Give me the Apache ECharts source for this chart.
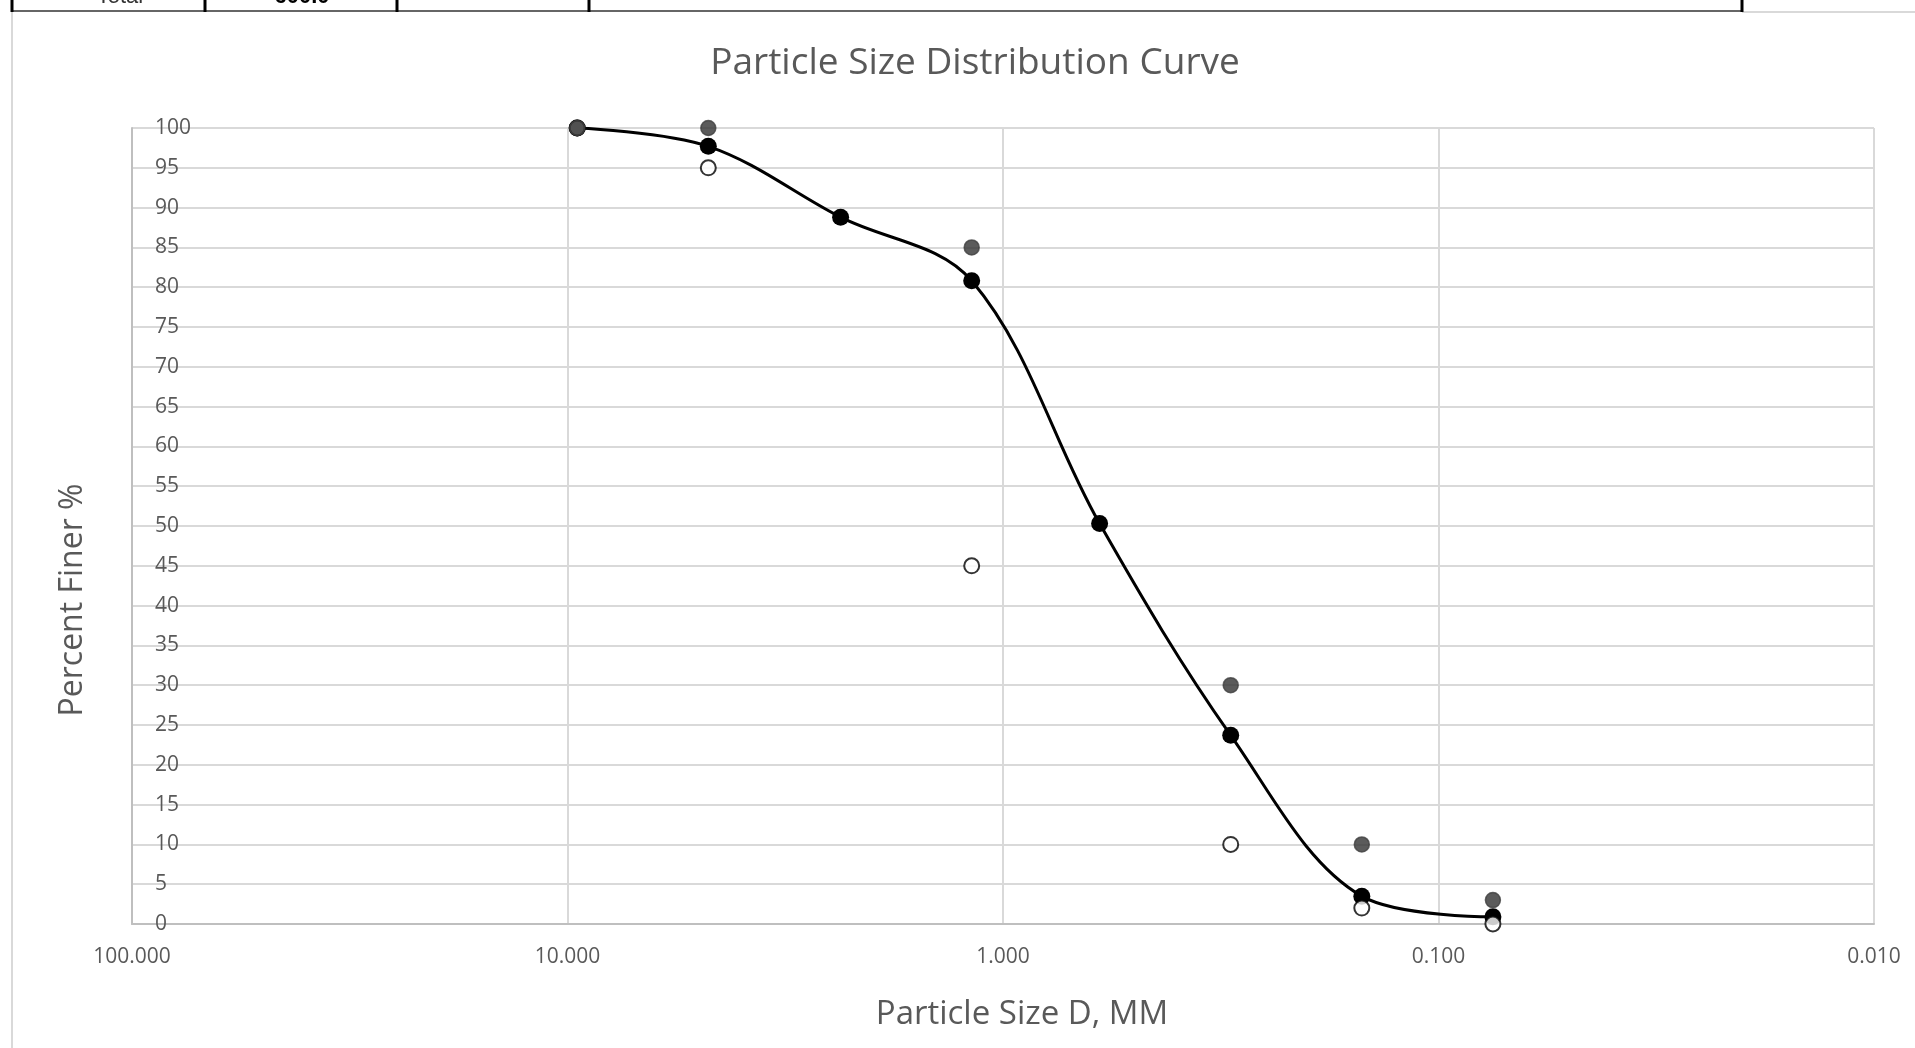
<!DOCTYPE html>
<html>
<head>
<meta charset="utf-8">
<script src="https://cdn.jsdelivr.net/npm/echarts@6/dist/echarts.min.js"></script>
<style>
  html, body { margin: 0; padding: 0; background: #fff; }
  #chart { width: 1915px; height: 1048px; }
</style>
</head>
<body>
<div id="chart"></div>
<script>
// sieve sizes (mm) and percent finer
const sizes = [9.5, 4.75, 2.36, 1.18, 0.6, 0.3, 0.15, 0.075];
const percentFiner = [100, 97.7, 88.8, 80.8, 50.3, 23.7, 3.5, 0.9];
const upperLimit = [100, 100, null, 85, null, 30, 10, 3];
const lowerLimit = [100, 95, null, 45, null, 10, 2, 0];

const FONT = "Open Sans";

function pairs(vals) {
  const out = [];
  sizes.forEach(function (s, i) {
    if (vals[i] !== null) out.push([s, vals[i]]);
  });
  return out;
}

// dotted fill for the upper limit markers
function dotPattern() {
  const c = document.createElement("canvas");
  c.width = 3;
  c.height = 3;
  const ctx = c.getContext("2d");
  ctx.fillStyle = "#333";
  ctx.fillRect(0, 0, 3, 3);
  ctx.fillStyle = "#f0f0f0";
  ctx.fillRect(1, 1, 1, 1);
  return c;
}

const chart = echarts.init(document.getElementById("chart"));

const option = {
  backgroundColor: "#fff",
  animation: false,
  grid: { left: 132, right: 41, top: 128, bottom: 124 },
  xAxis: {
    type: "log",
    logBase: 10,
    min: 0.01,
    max: 100,
    inverse: true,
    axisLine: { show: true, lineStyle: { color: "#bfbfbf", width: 2 } },
    axisTick: { show: false },
    minorTick: { show: false },
    axisLabel: {
      fontFamily: FONT,
      fontSize: 21,
      color: "#595959",
      margin: 23,
      formatter: function (v) { return Number(v).toFixed(3); }
    },
    splitLine: { show: true, lineStyle: { color: "#d9d9d9", width: 2 } }
  },
  yAxis: {
    type: "value",
    min: 0,
    max: 100,
    interval: 5,
    axisLine: { show: true, lineStyle: { color: "#bfbfbf", width: 2 } },
    axisTick: { show: false },
    axisLabel: {
      inside: true,
      align: "left",
      margin: 23,
      fontFamily: FONT,
      fontSize: 21,
      color: "#595959"
    },
    splitLine: { show: true, lineStyle: { color: "#d9d9d9", width: 2 } }
  },
  series: [
    {
      name: "Percent Finer",
      type: "line",
      data: pairs(percentFiner),
      smooth: 0.35,
      symbol: "circle",
      symbolSize: 17,
      lineStyle: { color: "#000", width: 3 },
      itemStyle: { color: "#000" },
      z: 2
    },
    {
      name: "Lower Limit",
      type: "scatter",
      data: pairs(lowerLimit),
      symbol: "circle",
      symbolSize: 15,
      itemStyle: { color: "#fff", borderColor: "#000", borderWidth: 2 },
      z: 3
    },
    {
      name: "Upper Limit",
      type: "scatter",
      data: pairs(upperLimit),
      symbol: "circle",
      symbolSize: 15,
      itemStyle: {
        color: { image: dotPattern(), repeat: "repeat" },
        borderColor: "#404040",
        borderWidth: 1.5
      },
      z: 4
    }
  ],
  graphic: [
    {
      type: "text",
      x: 975,
      y: 63,
      style: {
        text: "Particle Size Distribution Curve",
        font: "37px '" + FONT + "'",
        fill: "#595959",
        align: "center",
        verticalAlign: "middle"
      }
    },
    {
      type: "text",
      x: 1022,
      y: 1015,
      style: {
        text: "Particle Size D, MM",
        font: "33px '" + FONT + "'",
        fill: "#595959",
        align: "center",
        verticalAlign: "middle"
      }
    },
    {
      type: "text",
      x: 73,
      y: 600,
      rotation: Math.PI / 2,
      style: {
        text: "Percent Finer %",
        font: "32px '" + FONT + "'",
        fill: "#595959",
        align: "center",
        verticalAlign: "middle"
      }
    },
    // chart area border
    { type: "line", shape: { x1: 12, y1: 12, x2: 12, y2: 1048 }, style: { stroke: "#d9d9d9", lineWidth: 2 } },
    { type: "line", shape: { x1: 1742, y1: 12, x2: 1915, y2: 12 }, style: { stroke: "#d9d9d9", lineWidth: 2 } },
    // cut-off table row above the chart
    { type: "line", shape: { x1: 12, y1: 11, x2: 1742, y2: 11 }, style: { stroke: "#333", lineWidth: 1.5 } },
    { type: "line", shape: { x1: 12, y1: 0, x2: 12, y2: 12 }, style: { stroke: "#000", lineWidth: 3 } },
    { type: "line", shape: { x1: 205, y1: 0, x2: 205, y2: 12 }, style: { stroke: "#000", lineWidth: 3 } },
    { type: "line", shape: { x1: 397, y1: 0, x2: 397, y2: 12 }, style: { stroke: "#000", lineWidth: 3 } },
    { type: "line", shape: { x1: 589, y1: 0, x2: 589, y2: 12 }, style: { stroke: "#000", lineWidth: 3 } },
    { type: "line", shape: { x1: 1742, y1: 0, x2: 1742, y2: 12 }, style: { stroke: "#000", lineWidth: 3 } },
    {
      type: "text", x: 120, y: 8,
      style: { text: "Total", font: "22px 'Liberation Sans'", fill: "#333", align: "center", verticalAlign: "bottom" }
    },
    {
      type: "text", x: 302, y: 8,
      style: { text: "600.0", font: "bold 22px 'Liberation Sans'", fill: "#000", align: "center", verticalAlign: "bottom" }
    }
  ]
};

chart.setOption(option);
window.addEventListener("resize", function () { chart.resize(); });
</script>
</body>
</html>
